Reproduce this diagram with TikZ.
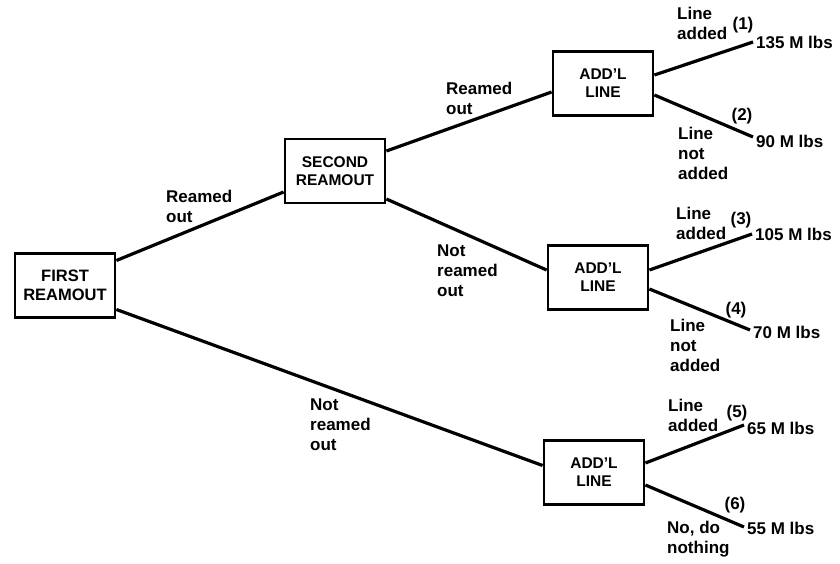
\documentclass[tikz,border=0pt]{standalone}
\usepackage{fontspec}
\setmainfont{Liberation Sans}
\begin{document}
\begin{tikzpicture}[x=1pt,y=-1pt,
 box/.style={draw, line width=2.8pt, align=center, inner sep=0pt, minimum width=100pt, minimum height=64pt, font=\bfseries\fontsize{15.5}{18}\selectfont},
 lbl/.style={anchor=west, align=left, inner sep=0pt, font=\bfseries\fontsize{17}{20}\selectfont},
 val/.style={anchor=west, inner xsep=3pt, inner ysep=0pt, font=\bfseries\fontsize{17}{20}\selectfont},
 num/.style={inner sep=0pt, font=\bfseries\fontsize{17}{20}\selectfont},
 edge/.style={line width=3.2pt}]
\useasboundingbox (0,0) rectangle (840,563);
% boxes
\node[box, font=\bfseries\fontsize{16.5}{19}\selectfont] (first) at (65,285.5) {FIRST\\REAMOUT};
\node[box] (second) at (335,171) {SECOND\\REAMOUT};
\node[box] (a1) at (603,83.5) {ADD'L\\LINE};
\node[box] (a2) at (598,277.5) {ADD'L\\LINE};
\node[box] (a3) at (594,472.5) {ADD'L\\LINE};
% values
\node[val] (v1) at (753,42) {135 M lbs};
\node[val] (v2) at (753,141) {90 M lbs};
\node[val] (v3) at (752,234) {105 M lbs};
\node[val] (v4) at (750,332) {70 M lbs};
\node[val] (v5) at (744,428) {65 M lbs};
\node[val] (v6) at (744,528) {55 M lbs};
% numbers
\node[num] (n1) at (743,25) {(1)};
\node[num] (n2) at (742,116) {(2)};
\node[num] (n3) at (741,220) {(3)};
\node[num] (n4) at (736,310) {(4)};
\node[num] (n5) at (737,413) {(5)};
\node[num] (n6) at (735,505) {(6)};
% branch labels
\node[lbl] (l1) at (166,206) {Reamed\\out};
\node[lbl] (l2) at (446,98) {Reamed\\out};
\node[lbl] (l3) at (437,271) {Not\\reamed\\out};
\node[lbl] (l4) at (310,425) {Not\\reamed\\out};
\node[lbl] (l5) at (677,23) {Line\\added};
\node[lbl] (l6) at (678,153) {Line\\not\\added};
\node[lbl] (l7) at (676,223) {Line\\added};
\node[lbl] (l8) at (670,345) {Line\\not\\added};
\node[lbl] (l9) at (668,415) {Line\\added};
\node[lbl] (l10) at (667,539) {No, do\\nothing};
% edges
\draw[edge] ([yshift=25pt]first.east) -- ([yshift=-21pt]second.west);
\draw[edge] ([yshift=-24pt]first.east) -- ([yshift=7pt]a3.west);
\draw[edge] ([yshift=20pt]second.east) -- ([yshift=-8.5pt]a1.west);
\draw[edge] ([yshift=-28pt]second.east) -- ([yshift=7.5pt]a2.west);
\draw[edge] ([yshift=8.5pt]a1.east) -- (v1.west);
\draw[edge] ([yshift=-11.5pt]a1.east) -- ([yshift=4pt]v2.west);
\draw[edge] ([yshift=7.5pt]a2.east) -- (v3.west);
\draw[edge] ([yshift=-11.5pt]a2.east) -- ([yshift=2pt]v4.west);
\draw[edge] ([yshift=9.5pt]a3.east) -- ([yshift=3pt]v5.west);
\draw[edge] ([yshift=-12.5pt]a3.east) -- ([yshift=1pt]v6.west);
\end{tikzpicture}
\end{document}
